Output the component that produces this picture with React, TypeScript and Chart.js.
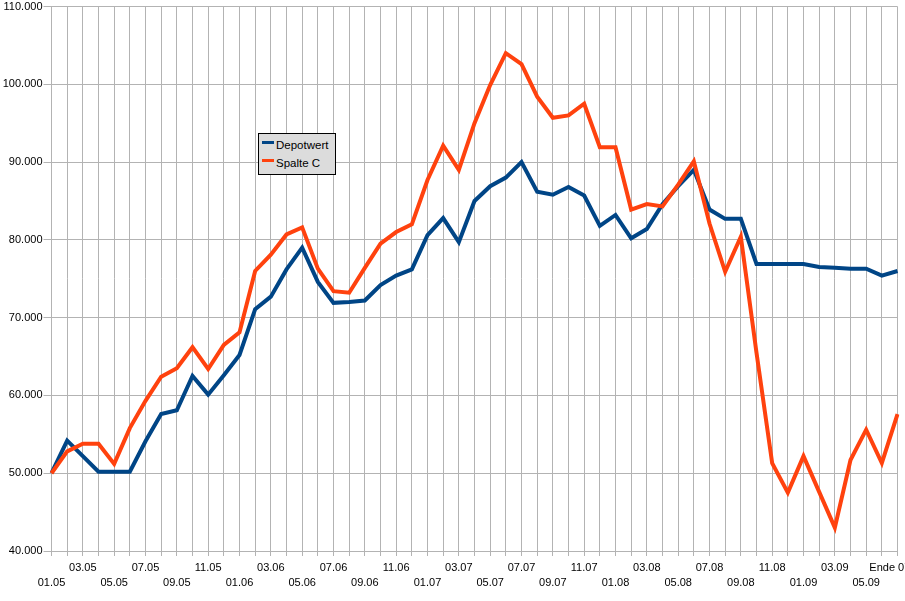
import React, { useEffect, useRef } from "react";
import { Chart, registerables } from "chart.js";

Chart.register(...registerables);

const categories: string[] = [
  "01.05", "02.05", "03.05", "04.05", "05.05", "06.05", "07.05", "08.05", "09.05", "10.05", "11.05", "12.05",
  "01.06", "02.06", "03.06", "04.06", "05.06", "06.06", "07.06", "08.06", "09.06", "10.06", "11.06", "12.06",
  "01.07", "02.07", "03.07", "04.07", "05.07", "06.07", "07.07", "08.07", "09.07", "10.07", "11.07", "12.07",
  "01.08", "02.08", "03.08", "04.08", "05.08", "06.08", "07.08", "08.08", "09.08", "10.08", "11.08", "12.08",
  "01.09", "02.09", "03.09", "04.09", "05.09", "06.09", "Ende 07.09",
];

const depotwert: number[] = [
  50000, 54200, 52200, 50200, 50200, 50200, 54100, 57600, 58100, 62500, 60100, 62600,
  65200, 71100, 72700, 76200, 79000, 74600, 71900, 72000, 72200, 74200, 75400, 76200,
  80600, 82800, 79700, 85000, 86900, 88000, 90000, 86200, 85800, 86800, 85700, 81800,
  83200, 80200, 81400, 84600, 86900, 89000, 83900, 82700, 82700, 76900, 76900, 76900,
  76900, 76500, 76400, 76300, 76300, 75400, 76000,
];

const spalteC: number[] = [
  50000, 52800, 53800, 53800, 51200, 55800, 59300, 62400, 63500, 66200, 63400, 66500,
  68100, 76000, 78100, 80700, 81600, 76300, 73400, 73200, 76400, 79500, 81000, 82000,
  87700, 92100, 89000, 95000, 99900, 104000, 102600, 98400, 95700, 96000, 97500, 91900,
  91900, 83900, 84600, 84300, 87100, 90100, 82100, 75900, 80400, 65500, 51300, 47500,
  52200, 47600, 43000, 51700, 55600, 51300, 57600,
];

const seriesNames: string[] = ["Depotwert", "Spalte C"];

const yMin = 40000;
const yMax = 110000;
const yStep = 10000;

const BLUE = "#004586";
const ORANGE = "#ff420e";
const GRID = "#b3b3b3";
const FONT = "'Liberation Sans', Arial, sans-serif";

function formatThousands(v: number): string {
  const s = Math.round(v).toString();
  return s.replace(/\B(?=(\d{3})+(?!\d))/g, ".");
}

export default function App() {
  const canvasRef = useRef<HTMLCanvasElement | null>(null);

  useEffect(() => {
    document.body.style.margin = "0";
    document.body.style.overflow = "hidden";
    const canvas = canvasRef.current;
    if (!canvas) return;
    const chart = new Chart(canvas, {
      type: "line",
      data: {
        labels: categories,
        datasets: [
          {
            label: seriesNames[0],
            data: depotwert,
            borderColor: BLUE,
            backgroundColor: BLUE,
            borderWidth: 4,
            pointRadius: 0,
            pointHoverRadius: 0,
            tension: 0,
            fill: false,
            order: 2,
          },
          {
            label: seriesNames[1],
            data: spalteC,
            borderColor: ORANGE,
            backgroundColor: ORANGE,
            borderWidth: 4,
            pointRadius: 0,
            pointHoverRadius: 0,
            tension: 0,
            fill: false,
            order: 1,
          },
        ],
      },
      options: {
        responsive: false,
        animation: false,
        layout: { padding: { top: 6.5, right: 7.5, left: 0, bottom: 0 } },
        plugins: {
          legend: { display: false },
          tooltip: { enabled: false },
        },
        events: [],
        scales: {
          x: {
            type: "category",
            offset: false,
            grid: {
              color: GRID,
              lineWidth: 1,
              drawTicks: true,
              tickLength: 5,
              tickColor: GRID,
            },
            border: { color: GRID },
            ticks: {
              autoSkip: false,
              maxRotation: 0,
              minRotation: 0,
              padding: 4.5,
              color: "#000",
              font: { family: FONT, size: 11, lineHeight: 15 / 11 },
              callback: (_value: any, index: number) => {
                if (index % 2 !== 0) return "";
                const lab = categories[index];
                return index % 4 === 0 ? ["", lab] : [lab, ""];
              },
            },
            afterFit: (scale: any) => {
              scale.height = 50;
              scale.paddingLeft = 0;
              scale.paddingRight = 0;
            },
          },
          y: {
            type: "linear",
            min: yMin,
            max: yMax,
            grid: {
              color: GRID,
              lineWidth: 1,
              drawTicks: true,
              tickLength: 8,
              tickColor: GRID,
            },
            border: { color: GRID },
            ticks: {
              stepSize: yStep,
              padding: 1,
              color: "#000",
              font: { family: FONT, size: 11 },
              callback: (value: any) => formatThousands(Number(value)),
            },
            afterFit: (scale: any) => {
              scale.width = 51.5;
              scale.paddingTop = 0;
              scale.paddingBottom = 0;
            },
          },
        },
      },
    });
    return () => {
      chart.destroy();
    };
  }, []);

  const legendText: React.CSSProperties = {
    position: "absolute",
    left: 17,
    fontFamily: FONT,
    fontSize: "11.5px",
    lineHeight: "14px",
    color: "#000",
    whiteSpace: "nowrap",
  };

  return (
    <div style={{ position: "relative", width: 905, height: 601, background: "#fff" }}>
      <canvas ref={canvasRef} width={905} height={601} style={{ display: "block", width: 905, height: 601 }} />
      <div
        style={{
          position: "absolute",
          left: 258,
          top: 133,
          width: 78,
          height: 42,
          boxSizing: "border-box",
          border: "1px solid #000",
          background: "#dcdcdc",
        }}
      >
        <div style={{ position: "absolute", left: 3, top: 7, width: 12, height: 3, background: BLUE }} />
        <div style={{ ...legendText, top: 4 }}>{seriesNames[0]}</div>
        <div style={{ position: "absolute", left: 3, top: 25, width: 12, height: 3, background: ORANGE }} />
        <div style={{ ...legendText, top: 22 }}>{seriesNames[1]}</div>
      </div>
    </div>
  );
}
